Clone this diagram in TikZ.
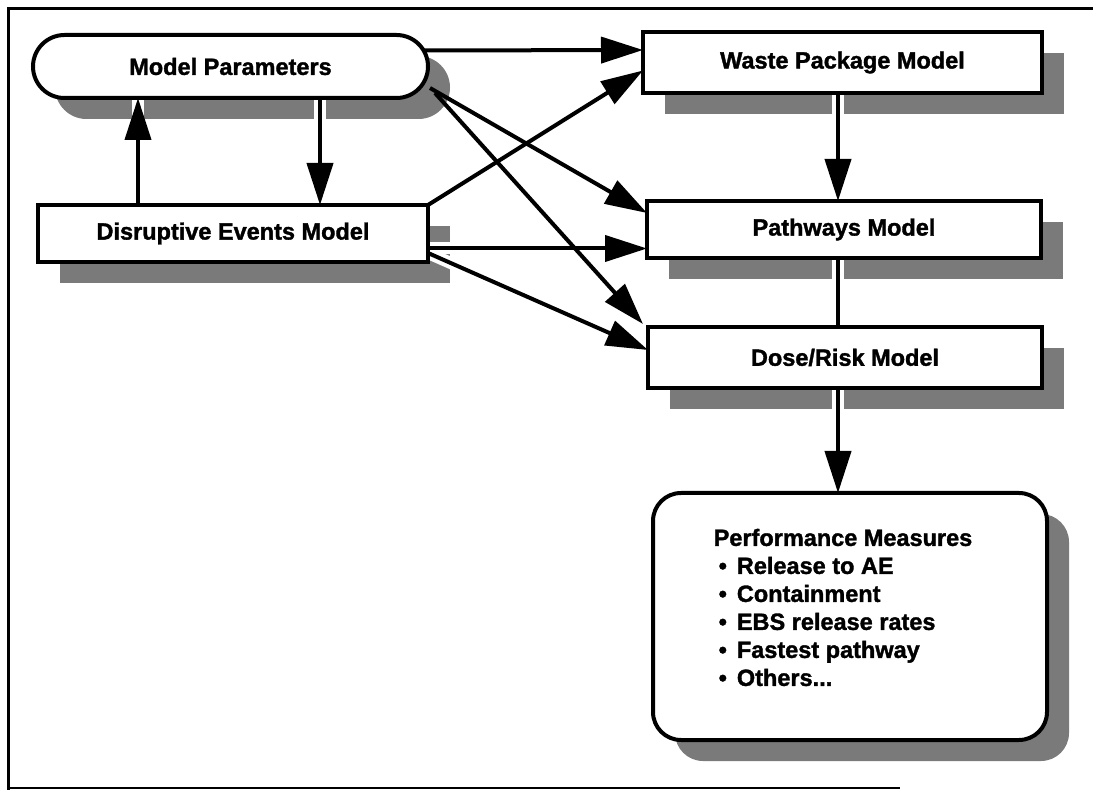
\documentclass[tikz,border=0pt]{standalone}
\usepackage{fontspec}
\setmainfont{Liberation Sans}[BoldFeatures={FakeBold=1.5}]
\usetikzlibrary{arrows.meta,calc}
\pgfdeclarelayer{shadowlayer}
\pgfdeclarelayer{gaplayer}
\pgfsetlayers{shadowlayer,gaplayer,main}
\tikzset{
  box/.style={draw, line width=4pt, fill=white, outer sep=0pt, inner sep=0pt,
    font=\fontsize{23.5}{28}\selectfont\bfseries},
  txt/.style={font=\fontsize{23.5}{28}\selectfont\bfseries, inner sep=0pt},
  shadowfill/.style={fill=black!52},
  conn/.style={line width=4pt, -{Triangle[length=42pt,width=26pt]}},
  plainconn/.style={line width=4pt},
  gapline/.style={draw=white, line width=12pt},
  frameline/.style={line width=3pt, line cap=rect},
}
\newcommand\myconn[3]{%
  \begin{pgfonlayer}{gaplayer}\draw[gapline] #2 -- #3;\end{pgfonlayer}%
  \draw[#1] #2 -- #3;}
\newcommand\boxshadow[2]{%
  \begin{pgfonlayer}{shadowlayer}%
  \fill[shadowfill,#2] ([shift={(22,21)}]#1.south west) rectangle ([shift={(22,21)}]#1.north east);%
  \end{pgfonlayer}}
\begin{document}
\begin{tikzpicture}[x=1pt,y=-1pt]
\useasboundingbox (0,0) rectangle (1093,791);
\begin{pgfonlayer}{shadowlayer}
\fill[white] (0,0) rectangle (1093,791);
\end{pgfonlayer}
% frame
\draw[frameline] (8,788) -- (8,9) -- (1093,9);
\draw[line width=1.5pt] (8,788) -- (900,788);

% nodes
\node[box, rounded corners=31.5pt, minimum width=395pt, minimum height=63pt] (mp) at (230.5,66.5) {Model Parameters};
\node[box, minimum width=390pt, minimum height=57pt] (dem) at (233,233.5) {Disruptive Events Model};
\node[box, minimum width=399pt, minimum height=61pt] (wpm) at (842.5,62.5) {Waste Package Model};
\node[box, minimum width=394pt, minimum height=57pt] (pw) at (844,229.5) {Pathways Model};
\node[box, minimum width=394pt, minimum height=61pt] (dr) at (845,357.5) {Dose/Risk Model};
\node[box, rounded corners=28pt, minimum width=394pt, minimum height=247pt] (perf) at (850,616.5) {};
\node[txt, align=left] (perftxt) at ([xshift=-7pt,yshift=9pt]perf.center) {Performance Measures\\
\hspace*{5pt}•\hspace*{10pt}Release to AE\\
\hspace*{5pt}•\hspace*{10pt}Containment\\
\hspace*{5pt}•\hspace*{10pt}EBS release rates\\
\hspace*{5pt}•\hspace*{10pt}Fastest pathway\\
\hspace*{5pt}•\hspace*{10pt}Others...};

% shadows
\boxshadow{mp}{rounded corners=31.5pt}
\boxshadow{dem}{}
\boxshadow{wpm}{}
\boxshadow{pw}{}
\boxshadow{dr}{}
\boxshadow{perf}{rounded corners=28pt}

% connectors
\myconn{conn}{([xshift=-4pt,yshift=16pt]mp.east)}{([yshift=12.5pt]wpm.west)}
\draw[conn] ([xshift=2pt,yshift=10pt]mp.south east) -- ([yshift=-12pt]pw.north west);
\draw[conn] ([xshift=7pt,yshift=5pt]mp.south east) -- ([xshift=-5pt,yshift=3pt]dr.north west);
\myconn{conn}{(dem.north east)}{([yshift=-8pt]wpm.west)}
\myconn{conn}{([yshift=-15pt]dem.east)}{([yshift=-19pt]pw.west)}
\myconn{conn}{([yshift=9pt]dem.south east)}{([yshift=7.5pt]dr.west)}
\myconn{conn}{([xshift=89.5pt]mp.south)}{([xshift=87pt]dem.north)}
\myconn{conn}{([xshift=-95pt]dem.north)}{([xshift=-92.5pt]mp.south)}
\myconn{conn}{([xshift=-4.5pt]wpm.south)}{([xshift=-6pt]pw.north)}
\myconn{plainconn}{([xshift=-6pt]pw.south)}{([xshift=-7pt]dr.north)}
\myconn{conn}{([xshift=-7pt]dr.south)}{([xshift=-12pt]perf.north)}
\end{tikzpicture}
\end{document}
